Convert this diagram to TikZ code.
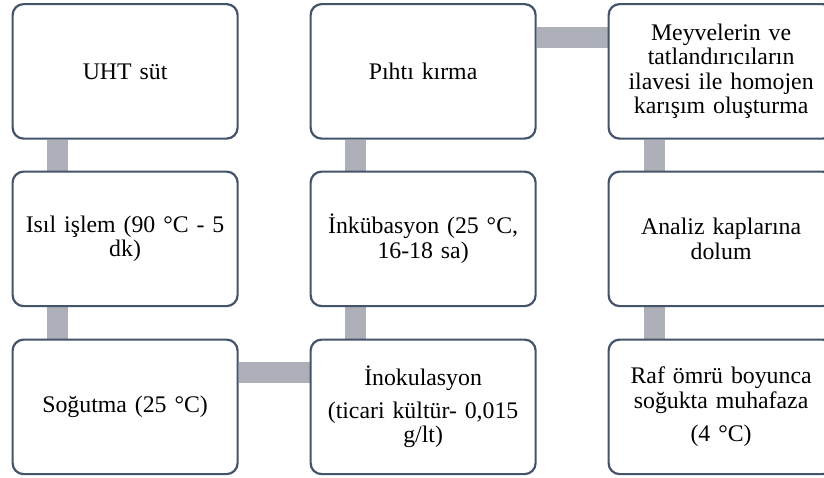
\documentclass[tikz,border=0pt]{standalone}
\usepackage{fontspec}
\setmainfont{Liberation Serif}
\usetikzlibrary{backgrounds}
\definecolor{boxline}{HTML}{44546A}
\definecolor{connfill}{HTML}{ADB0B8}
\tikzset{
  stepbox/.style={draw=boxline, line width=2.2pt, fill=white, rounded corners=11pt,
    rectangle, anchor=north west, minimum width=225pt, minimum height=134.5pt,
    inner sep=0pt, text width=215pt, align=center,
    font=\fontsize{23.8pt}{24.5pt}\selectfont},
  conn/.style={draw=connfill, line width=21pt}
}
\begin{document}
\begin{tikzpicture}[x=1pt,y=-1pt]
\clip (0,0) rectangle (824,477);
\node[stepbox] (A) at (11.5,3) {UHT süt};
\node[stepbox] (B) at (11.5,170.5) {Isıl işlem (90 °C - 5\\dk)};
\node[stepbox] (C) at (11.5,338.5) {Soğutma (25 °C)};
\node[stepbox] (D) at (309.5,338.5) {İnokulasyon\\[8pt](ticari kültür- 0,015\\g/lt)};
\node[stepbox] (E) at (309.5,170.5) {İnkübasyon (25 °C,\\16-18 sa)};
\node[stepbox] (F) at (309.5,3) {Pıhtı kırma};
\node[stepbox] (G) at (607.5,3) {Meyvelerin ve\\tatlandırıcıların\\ilavesi ile homojen\\karışım oluşturma};
\node[stepbox] (H) at (607.5,170.5) {Analiz kaplarına\\dolum};
\node[stepbox] (I) at (607.5,338.5) {Raf ömrü boyunca\\soğukta muhafaza\\[9pt](4 °C)};
\begin{pgfonlayer}{background}
\fill[white] (0,0) rectangle (824,477);
\draw[conn] ([xshift=46pt]A.south west) -- ([xshift=46pt]B.north west);
\draw[conn] ([xshift=46pt]B.south west) -- ([xshift=46pt]C.north west);
\draw[conn] ([yshift=-34pt]C.north east) -- ([yshift=-34pt]D.north west);
\draw[conn] ([xshift=46pt]D.north west) -- ([xshift=46pt]E.south west);
\draw[conn] ([xshift=46pt]E.north west) -- ([xshift=46pt]F.south west);
\draw[conn] ([yshift=-34pt]F.north east) -- ([yshift=-34pt]G.north west);
\draw[conn] ([xshift=47pt]G.south west) -- ([xshift=47pt]H.north west);
\draw[conn] ([xshift=47pt]H.south west) -- ([xshift=47pt]I.north west);
\end{pgfonlayer}
\end{tikzpicture}
\end{document}
